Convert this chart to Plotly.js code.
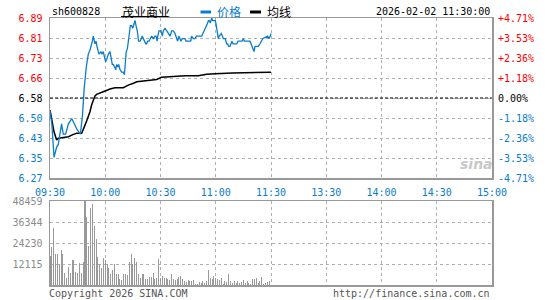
<!DOCTYPE html>
<html><head><meta charset="utf-8">
<script src="https://cdn.plot.ly/plotly-3.0.1.min.js"></script>
<style>html,body{margin:0;padding:0;background:#fff}#chart{width:545px;height:300px}</style>
</head><body><div id="chart"></div>
<script>
const stockCode = 'sh600828';
const stockName = '茂业商业';
const legendPrice = '价格';
const legendAvg = '均线';
const timestamp = '2026-02-02 11:30:00';
const copyrightText = 'Copyright 2026 SINA.COM';
const siteText = 'http://finance.sina.com.cn';
const prevClose = 6.58;
const maxPct = 4.71;
const timeTickVals = [0, 30, 60, 90, 120, 150, 180, 210, 240];
const timeTickLabels = ['09:30','10:00','10:30','11:00','11:30','13:30','14:00','14:30','15:00'];
const priceTickLabels = ['6.27','6.35','6.43','6.50','6.58','6.66','6.73','6.81','6.89'];
const pctTickLabels = ['-4.71%','-3.53%','-2.36%','-1.18%','0.00%','+1.18%','+2.36%','+3.53%','+4.71%'];
const volTickVals = [12115, 24230, 36344, 48459];
const volMax = 48459;

const priceMinutes = [0,1,2.2,2.7,3.6,4.5,5.4,6.3,7.2,8.5,10,11.8,13.2,14.5,16.5,17.6,18.6,19.7,20.8,21.9,23,23.5,24.4,25,25.5,26.6,27.7,28.1,28.9,29.9,30.2,30.8,31.7,32.6,33.1,33.8,34.4,34.9,35.7,36.2,36.8,37.3,38,38.9,39.8,40.4,40.9,41.4,42,42.5,43.1,43.6,44.3,44.9,45.6,46.2,46.7,47.4,48.1,48.9,49.6,50.1,50.7,51.2,52,52.5,53,53.8,54.3,55.2,56.1,57,57.6,58.1,58.5,59.2,60.3,61,61.5,62.4,63.4,64.2,65.2,66.1,67,67.9,68.4,69.3,70,70.6,71.1,71.8,73.3,73.8,76.4,76.9,77.8,78.7,79.6,82.4,83.8,84.5,85.1,85.6,86,86.5,87,87.8,88.3,89.8,90.3,90.9,91.4,91.9,93,93.6,94.1,95.2,95.9,96.5,97,97.7,98.3,98.8,99.4,101.4,102.1,104.3,105,105.5,108.6,109.1,109.7,110.2,110.8,111.3,113.1,114,114.9,115.5,118.2,118.9,119.6,120];
const prices = [6.53,6.48,6.35,6.37,6.39,6.40,6.45,6.48,6.44,6.44,6.48,6.50,6.48,6.46,6.44,6.51,6.62,6.70,6.75,6.77,6.80,6.82,6.79,6.80,6.78,6.75,6.76,6.75,6.76,6.73,6.72,6.73,6.75,6.76,6.74,6.71,6.71,6.70,6.69,6.71,6.70,6.71,6.69,6.68,6.68,6.67,6.71,6.76,6.77,6.81,6.83,6.86,6.86,6.85,6.87,6.88,6.86,6.84,6.80,6.80,6.81,6.82,6.81,6.80,6.79,6.79,6.80,6.80,6.81,6.82,6.81,6.82,6.82,6.80,6.82,6.84,6.84,6.82,6.84,6.85,6.84,6.83,6.82,6.84,6.84,6.83,6.82,6.80,6.82,6.81,6.80,6.81,6.81,6.80,6.80,6.82,6.81,6.81,6.82,6.82,6.84,6.85,6.86,6.87,6.88,6.88,6.87,6.89,6.88,6.88,6.86,6.83,6.81,6.82,6.83,6.82,6.81,6.81,6.79,6.79,6.78,6.78,6.79,6.80,6.79,6.79,6.80,6.80,6.81,6.80,6.80,6.79,6.78,6.77,6.76,6.78,6.78,6.79,6.80,6.81,6.82,6.81,6.82,6.83];

const avgMinutes = [0,2.2,3.6,4.5,6.3,10,12.7,14.5,17.2,18.1,19,19.9,20.8,21.7,22.6,23.5,24.4,25.3,27.1,29.9,32.6,35.3,39.8,42.5,45.3,47.1,50.7,54.3,57.9,60.6,65.2,73.3,80.5,85.1,89.6,99.2,120];
const avgPrices = [6.533,6.449,6.417,6.424,6.426,6.430,6.439,6.443,6.443,6.456,6.475,6.491,6.508,6.527,6.553,6.572,6.588,6.594,6.600,6.607,6.615,6.620,6.620,6.630,6.637,6.643,6.646,6.649,6.652,6.660,6.663,6.666,6.666,6.672,6.674,6.677,6.680];

const volumes = [16730,21920,33080,18080,18080,12310,20000,18080,7115,4230,10380,7115,14230,14610,7690,7115,12880,7115,13460,48459,39230,22500,44610,46540,34230,26730,16350,12310,10000,15770,14230,11920,10000,6150,8460,12310,6540,6540,3650,2690,6150,6540,5770,13460,18080,11920,15770,13460,6150,4230,6540,6540,3270,3650,4620,4620,7115,3270,3850,14800,4230,5190,3850,3850,3270,2690,6540,3270,2690,3650,4620,5000,3650,2310,1920,2690,2310,2310,2690,770,770,1920,1350,2310,1350,2310,8460,3850,3270,5190,4230,3460,2690,4230,770,2310,1730,6540,2310,1350,2310,1350,2310,1350,1920,2690,1350,2310,1350,770,3650,3270,3850,1350,2310,4800,770,1350,1730,2310];
const volMinutes = volumes.map((v, i) => i);

const BLUE = '#0b7ccc', RED = '#ff0000', GRID = '#b0b0b0', BORDER = '#999999';
const MONO = 'DejaVu Sans Mono, Liberation Mono, monospace';
const CJK = 'Noto Sans CJK SC, sans-serif';

const yLo = prevClose * (1 - maxPct / 100), yHi = prevClose * (1 + maxPct / 100);
const priceTickVals = priceTickLabels.map((t, k) => yLo + (yHi - yLo) * k / 8);
const pctTickVals = pctTickLabels.map((t, k) => -maxPct + 2 * maxPct * k / 8);
const colorFor = k => k < 4 ? BLUE : (k === 4 ? '#000' : RED);
const pctSeries = prices.map(p => (p / prevClose - 1) * 100);

const traces = [
  {x: volMinutes, y: volumes, type: 'bar', xaxis: 'x2', yaxis: 'y3', marker: {color: '#999999', line: {width: 0}}, width: 0.55, hoverinfo: 'skip'},
  {x: priceMinutes, y: pctSeries, type: 'scatter', mode: 'lines', xaxis: 'x', yaxis: 'y2', line: {color: 'rgba(0,0,0,0)', width: 0}, hoverinfo: 'skip'},
  {x: avgMinutes, y: avgPrices, type: 'scatter', mode: 'lines', xaxis: 'x', yaxis: 'y', line: {color: '#000', width: 1.5}, hoverinfo: 'skip'},
  {x: priceMinutes, y: prices, type: 'scatter', mode: 'lines', xaxis: 'x', yaxis: 'y', line: {color: BLUE, width: 1.3}, hoverinfo: 'skip'}
];

const gridAxis = {showgrid: true, gridcolor: GRID, griddash: 'dot', gridwidth: 1, zeroline: false, showline: true, linecolor: BORDER, linewidth: 1.5, mirror: true};
const MAIN_BOTTOM = (285 - 178) / 267, VOL_TOP = (285 - 201) / 267;
const HY = (285 - 12) / 267;

const layout = {
  width: 545, height: 300, margin: {l: 50, r: 53, t: 18, b: 15},
  paper_bgcolor: '#fff', plot_bgcolor: '#fff', showlegend: false, bargap: 0,
  xaxis: Object.assign({}, gridAxis, {domain: [0, 1], anchor: 'y', range: [0, 240], tickmode: 'array', tickvals: timeTickVals,
    ticktext: timeTickLabels, ticks: 'outside', ticklen: 4, tickcolor: 'rgba(0,0,0,0)', tickfont: {family: MONO, size: 10, color: BLUE}}),
  yaxis: Object.assign({}, gridAxis, {domain: [MAIN_BOTTOM, 1], anchor: 'x', range: [yLo, yHi], tickmode: 'array', tickvals: priceTickVals,
    ticktext: priceTickLabels.map((t, k) => '<span style="color:' + colorFor(k) + '">' + t + '</span>'),
    ticks: 'outside', ticklen: 4, tickcolor: 'rgba(0,0,0,0)', tickfont: {family: MONO, size: 10}}),
  yaxis2: {overlaying: 'y', side: 'right', anchor: 'x', range: [-maxPct, maxPct], tickmode: 'array', tickvals: pctTickVals,
    ticktext: pctTickLabels.map((t, k) => '<span style="color:' + colorFor(k) + '">' + t + '</span>'),
    showgrid: false, zeroline: false, showline: false, ticks: 'outside', ticklen: 3, tickcolor: 'rgba(0,0,0,0)', tickfont: {family: MONO, size: 10}},
  xaxis2: Object.assign({}, gridAxis, {domain: [0, 1], anchor: 'y3', matches: 'x', range: [0, 240], tickmode: 'array', tickvals: timeTickVals, showticklabels: false, ticks: ''}),
  yaxis3: Object.assign({}, gridAxis, {domain: [0, VOL_TOP], anchor: 'x2', range: [0, volMax], tickmode: 'array', tickvals: volTickVals,
    ticktext: volTickVals.map(String), ticks: 'outside', ticklen: 4, tickcolor: 'rgba(0,0,0,0)', tickfont: {family: MONO, size: 10, color: '#8c8c8c'}}),
  shapes: [
    {type: 'line', xref: 'x', yref: 'y', x0: 0, x1: 240, y0: prevClose, y1: prevClose, layer: 'between', line: {color: '#000', width: 1, dash: '3px,2px'}},
    {type: 'line', xref: 'paper', yref: 'paper', x0: (200.5 - 50) / 442, x1: (211 - 50) / 442, y0: HY, y1: HY, line: {color: BLUE, width: 3}},
    {type: 'line', xref: 'paper', yref: 'paper', x0: (250 - 50) / 442, x1: (261 - 50) / 442, y0: HY, y1: HY, line: {color: '#000', width: 3}},
    {type: 'line', xref: 'paper', yref: 'paper', x0: (121 - 50) / 442, x1: (168 - 50) / 442, y0: (285 - 16.5) / 267, y1: (285 - 16.5) / 267, line: {color: '#000', width: 1}}
  ],
  annotations: [
    {text: stockCode, xref: 'paper', yref: 'paper', x: 0, y: HY, xanchor: 'left', yanchor: 'middle', showarrow: false, font: {family: MONO, size: 10, color: '#000'}},
    {text: stockName, xref: 'paper', yref: 'paper', x: (120 - 50) / 442, y: HY, xanchor: 'left', yanchor: 'middle', showarrow: false, font: {family: CJK, size: 12, color: '#000'}},
    {text: legendPrice, xref: 'paper', yref: 'paper', x: (215 - 50) / 442, y: HY, xanchor: 'left', yanchor: 'middle', showarrow: false, font: {family: CJK, size: 12, color: BLUE}},
    {text: legendAvg, xref: 'paper', yref: 'paper', x: (265 - 50) / 442, y: HY, xanchor: 'left', yanchor: 'middle', showarrow: false, font: {family: CJK, size: 12, color: '#000'}},
    {text: timestamp, xref: 'paper', yref: 'paper', x: 1, y: HY, xanchor: 'right', yanchor: 'middle', showarrow: false, font: {family: MONO, size: 10, color: '#000'}},
    {text: copyrightText, xref: 'paper', yref: 'paper', x: (47 - 50) / 442, y: (285 - 293) / 267, xanchor: 'left', yanchor: 'middle', showarrow: false, font: {family: MONO, size: 10, color: '#555'}},
    {text: siteText, xref: 'paper', yref: 'paper', x: 1, y: (285 - 293) / 267, xanchor: 'right', yanchor: 'middle', showarrow: false, font: {family: MONO, size: 10, color: '#555'}},
    {text: '<b><i>sina</i></b>', xref: 'paper', yref: 'paper', x: (476 - 50) / 442, y: (285 - 164) / 267, xanchor: 'center', yanchor: 'middle', showarrow: false, font: {family: 'DejaVu Sans, sans-serif', size: 14, color: '#c8c8c8'}}
  ]
};

Plotly.newPlot('chart', traces, layout, {staticPlot: true, displayModeBar: false});
</script>
</body></html>
